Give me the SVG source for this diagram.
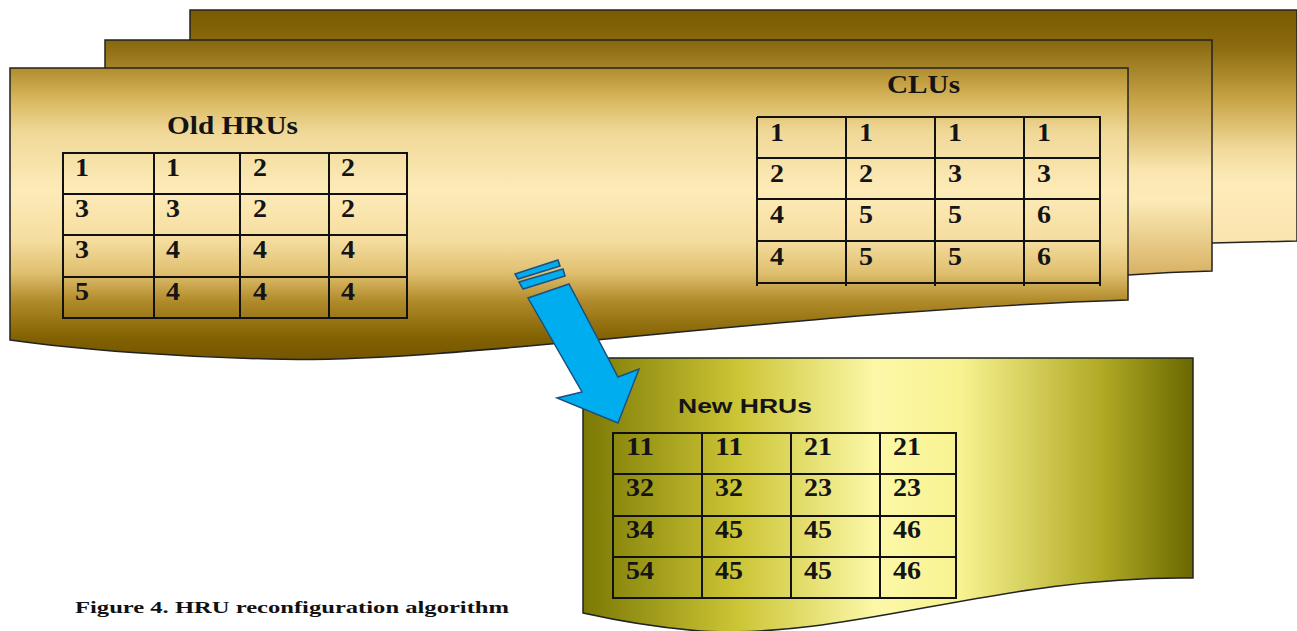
<svg xmlns="http://www.w3.org/2000/svg" width="1297" height="631" viewBox="0 0 1297 631">
<style>
.sheet{stroke:#222;stroke-width:1.5}
.grid{fill:none;stroke:#111;stroke-width:2}
.num{font-family:"Liberation Serif","Times New Roman",serif;font-weight:bold;font-size:25px;fill:#141414}
.ttl{font-family:"Liberation Serif","Times New Roman",serif;font-weight:bold;font-size:25px;fill:#141414}
.ttls{font-family:"Liberation Sans",Arial,sans-serif;font-weight:bold;font-size:21px;fill:#141414}
.cap{font-family:"Liberation Serif","Times New Roman",serif;font-weight:bold;font-size:16px;fill:#111}
</style>
<defs>
<linearGradient id="gBack" gradientUnits="userSpaceOnUse" x1="0" y1="10" x2="0" y2="242">
<stop offset="0" stop-color="#785a00"/><stop offset="0.17" stop-color="#8d6d10"/><stop offset="0.39" stop-color="#c9a546"/><stop offset="0.6" stop-color="#f2da9c"/><stop offset="0.75" stop-color="#fdecba"/><stop offset="1" stop-color="#fae4ae"/>
</linearGradient>
<linearGradient id="gMid" gradientUnits="userSpaceOnUse" x1="0" y1="40" x2="0" y2="274">
<stop offset="0" stop-color="#86670e"/><stop offset="0.26" stop-color="#c8a448"/><stop offset="0.56" stop-color="#fbe6b0"/><stop offset="0.68" stop-color="#fdebb8"/><stop offset="1" stop-color="#d8b264"/>
</linearGradient>
<linearGradient id="gFront" gradientUnits="userSpaceOnUse" x1="0" y1="68" x2="0" y2="360">
<stop offset="0" stop-color="#b08c2c"/><stop offset="0.11" stop-color="#d8b860"/><stop offset="0.22" stop-color="#f0d898"/><stop offset="0.42" stop-color="#fdebb8"/><stop offset="0.59" stop-color="#f5dda0"/><stop offset="0.7" stop-color="#e0c070"/><stop offset="0.8" stop-color="#b08a28"/><stop offset="0.93" stop-color="#806000"/><stop offset="1" stop-color="#745600"/>
</linearGradient>
<linearGradient id="gNew" gradientUnits="userSpaceOnUse" x1="583" y1="0" x2="1193" y2="0">
<stop offset="0" stop-color="#7b7905"/><stop offset="0.25" stop-color="#cbc434"/><stop offset="0.48" stop-color="#fcf8a8"/><stop offset="0.62" stop-color="#f8f290"/><stop offset="0.85" stop-color="#b0aa25"/><stop offset="1" stop-color="#6a6800"/>
</linearGradient>
</defs>

<g id="sheet-back">
<path class="sheet" fill="url(#gBack)" d="M190,10 H1297 V241 L1212,243 L190,250 Z"/>
</g>
<g id="sheet-middle">
<path class="sheet" fill="url(#gMid)" d="M105,40 H1212 V271 Q1170,272 1128,275 L105,280 Z"/>
</g>
<g id="sheet-old">
<path class="sheet" fill="url(#gFront)" d="M10,68 H1128 V300 C800,310 450,365 270,359 C180,357 80,350 10,340 Z"/>
<g id="old-hrus">
<text class="ttl" x="167" y="134" textLength="131" lengthAdjust="spacingAndGlyphs">Old HRUs</text>
<rect class="grid" x="63" y="153" width="344" height="165"/>
<path class="grid" d="M154,153V318M240,153V318M329,153V318M63,194H407M63,235H407M63,277H407"/>
<g class="num">
<text x="75" y="176" textLength="14" lengthAdjust="spacingAndGlyphs">1</text><text x="166" y="176" textLength="14" lengthAdjust="spacingAndGlyphs">1</text><text x="253" y="176" textLength="14" lengthAdjust="spacingAndGlyphs">2</text><text x="341" y="176" textLength="14" lengthAdjust="spacingAndGlyphs">2</text>
<text x="75" y="217" textLength="14" lengthAdjust="spacingAndGlyphs">3</text><text x="166" y="217" textLength="14" lengthAdjust="spacingAndGlyphs">3</text><text x="253" y="217" textLength="14" lengthAdjust="spacingAndGlyphs">2</text><text x="341" y="217" textLength="14" lengthAdjust="spacingAndGlyphs">2</text>
<text x="75" y="258" textLength="14" lengthAdjust="spacingAndGlyphs">3</text><text x="166" y="258" textLength="14" lengthAdjust="spacingAndGlyphs">4</text><text x="253" y="258" textLength="14" lengthAdjust="spacingAndGlyphs">4</text><text x="341" y="258" textLength="14" lengthAdjust="spacingAndGlyphs">4</text>
<text x="75" y="300" textLength="14" lengthAdjust="spacingAndGlyphs">5</text><text x="166" y="300" textLength="14" lengthAdjust="spacingAndGlyphs">4</text><text x="253" y="300" textLength="14" lengthAdjust="spacingAndGlyphs">4</text><text x="341" y="300" textLength="14" lengthAdjust="spacingAndGlyphs">4</text>
</g>
</g>
<g id="clus">
<text class="ttl" x="887" y="93" textLength="73" lengthAdjust="spacingAndGlyphs">CLUs</text>
<path class="grid" d="M757,117H1100V286M757,117V286M846,117V286M935,117V286M1024,117V286M757,158H1100M757,199H1100M757,241H1100M757,283H1100"/>
<g class="num">
<text x="770" y="141" textLength="14" lengthAdjust="spacingAndGlyphs">1</text><text x="859" y="141" textLength="14" lengthAdjust="spacingAndGlyphs">1</text><text x="948" y="141" textLength="14" lengthAdjust="spacingAndGlyphs">1</text><text x="1037" y="141" textLength="14" lengthAdjust="spacingAndGlyphs">1</text>
<text x="770" y="182" textLength="14" lengthAdjust="spacingAndGlyphs">2</text><text x="859" y="182" textLength="14" lengthAdjust="spacingAndGlyphs">2</text><text x="948" y="182" textLength="14" lengthAdjust="spacingAndGlyphs">3</text><text x="1037" y="182" textLength="14" lengthAdjust="spacingAndGlyphs">3</text>
<text x="770" y="223" textLength="14" lengthAdjust="spacingAndGlyphs">4</text><text x="859" y="223" textLength="14" lengthAdjust="spacingAndGlyphs">5</text><text x="948" y="223" textLength="14" lengthAdjust="spacingAndGlyphs">5</text><text x="1037" y="223" textLength="14" lengthAdjust="spacingAndGlyphs">6</text>
<text x="770" y="265" textLength="14" lengthAdjust="spacingAndGlyphs">4</text><text x="859" y="265" textLength="14" lengthAdjust="spacingAndGlyphs">5</text><text x="948" y="265" textLength="14" lengthAdjust="spacingAndGlyphs">5</text><text x="1037" y="265" textLength="14" lengthAdjust="spacingAndGlyphs">6</text>
</g>
</g>
</g>

<g id="sheet-new">
<path class="sheet" fill="url(#gNew)" d="M583,358 H1193 V578 C1000,575 850,640 700,631 C650,627 610,619 583,613 Z"/>
<text class="ttls" x="678" y="413" textLength="134" lengthAdjust="spacingAndGlyphs">New HRUs</text>
<rect class="grid" x="613" y="433" width="343" height="165"/>
<path class="grid" d="M702,433V598M791,433V598M880,433V598M613,474H956M613,516H956M613,557H956"/>
<g class="num">
<text x="626" y="455" textLength="28" lengthAdjust="spacingAndGlyphs">11</text><text x="715" y="455" textLength="28" lengthAdjust="spacingAndGlyphs">11</text><text x="804" y="455" textLength="28" lengthAdjust="spacingAndGlyphs">21</text><text x="893" y="455" textLength="28" lengthAdjust="spacingAndGlyphs">21</text>
<text x="626" y="496" textLength="28" lengthAdjust="spacingAndGlyphs">32</text><text x="715" y="496" textLength="28" lengthAdjust="spacingAndGlyphs">32</text><text x="804" y="496" textLength="28" lengthAdjust="spacingAndGlyphs">23</text><text x="893" y="496" textLength="28" lengthAdjust="spacingAndGlyphs">23</text>
<text x="626" y="538" textLength="28" lengthAdjust="spacingAndGlyphs">34</text><text x="715" y="538" textLength="28" lengthAdjust="spacingAndGlyphs">45</text><text x="804" y="538" textLength="28" lengthAdjust="spacingAndGlyphs">45</text><text x="893" y="538" textLength="28" lengthAdjust="spacingAndGlyphs">46</text>
<text x="626" y="579" textLength="28" lengthAdjust="spacingAndGlyphs">54</text><text x="715" y="579" textLength="28" lengthAdjust="spacingAndGlyphs">45</text><text x="804" y="579" textLength="28" lengthAdjust="spacingAndGlyphs">45</text><text x="893" y="579" textLength="28" lengthAdjust="spacingAndGlyphs">46</text>
</g>
</g>

<g id="connectors" fill="#00aeef" stroke="#1d4f80" stroke-width="1.5" stroke-linejoin="miter">
<path d="M515,274 L558,260 L560,266 L518,279 Z"/>
<path d="M519,282 L563,269 L565,276 L523,289 Z"/>
<path d="M528,298 L569,284 L618,377 L639,369 L618,423 L557,398 L582,392 Z"/>
</g>

<g id="caption">
<text class="cap" x="75" y="613" textLength="434" lengthAdjust="spacingAndGlyphs">Figure 4. HRU reconfiguration algorithm</text>
</g>
</svg>
